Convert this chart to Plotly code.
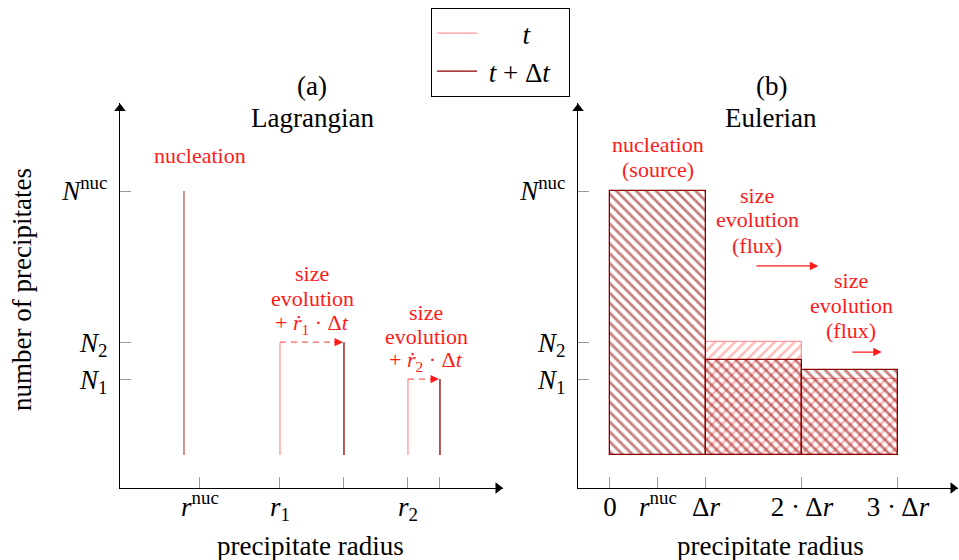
import plotly.graph_objects as go

# ---------------- data ----------------
# Lagrangian panel (a)
r_nuc_line = 2.0            # nucleation class radius (drawn line)
N_nuc = 9.0
N_base = 1.0
r_t = [5.0, 9.0]            # r1, r2 at time t
r_dt = [7.0, 10.0]          # radii at t + dt
N_lag = [4.42, 3.30]        # N2, N1
lag_tickvals = [2.5, 5.0, 7.0, 9.0, 10.0]
lag_ticktext = ["<i>r</i><sup>nuc</sup>", "<i>r</i><sub>1</sub>", "", "<i>r</i><sub>2</sub>", ""]

# Eulerian panel (b)
bin_centers = [0.5, 1.5, 2.5]
N_eul_t = [None, 4.42, 3.30]
N_eul_dt = [9.0, 3.88, 3.58]
eul_tickvals = [0, 0.5, 1, 2, 3]
eul_ticktext = ["0", "<i>r</i><sup>nuc</sup>", "Δ<i>r</i>", "2 · Δ<i>r</i>", "3 · Δ<i>r</i>"]

y_tickvals = [9.0, 4.42, 3.30]
y_ticktext = ["<i>N</i><sup>nuc</sup>", "<i>N</i><sub>2</sub>", "<i>N</i><sub>1</sub>"]

# ---------------- style ----------------
W, H = 959, 560
FONT = "Liberation Serif"
BIG, SMALL = 27, 22
LIGHT = "#ff9a9a"
LIGHT_HATCH = "#ff7070"
DARK = "#8b0000"
RED = "#ff1a1a"
YMAX = 11.667
XMAX_L = 11.97
XMIN_R, XMAX_R = -0.333, 3.625
NB = "&nbsp;"

def px(x):
    return x / W

def py(y):
    return 1 - y / H

fig = go.Figure()

# ----- Lagrangian lines -----
xs_t, ys_t, xs_dt, ys_dt = [], [], [], []
for a, b, n in zip(r_t, r_dt, N_lag):
    xs_t += [a, a, None]
    ys_t += [N_base, n, None]
    xs_dt += [b, b, None]
    ys_dt += [N_base, n, None]

fig.add_trace(go.Scatter(x=xs_t, y=ys_t, mode="lines", line=dict(color=LIGHT, width=1.3),
                         name=NB * 6 + "<i>t</i>", xaxis="x", yaxis="y", legendrank=1))
fig.add_trace(go.Scatter(x=xs_dt, y=ys_dt, mode="lines", line=dict(color=DARK, width=1.3),
                         name=NB + "<i>t</i>" + NB + "+" + NB + "Δ<i>t</i>" + NB * 2,
                         xaxis="x", yaxis="y", legendrank=2))
fig.add_trace(go.Scatter(x=[r_nuc_line, r_nuc_line], y=[N_base, N_nuc], mode="lines",
                         line=dict(color="#b85555", width=1.3), showlegend=False,
                         xaxis="x", yaxis="y"))

# dashed growth arrows
for a, b, n in zip(r_t, r_dt, N_lag):
    fig.add_trace(go.Scatter(x=[a, b - 0.3], y=[n, n], mode="lines",
                             line=dict(color="#ff6060", width=1.3, dash="6px,5px"),
                             showlegend=False, xaxis="x", yaxis="y"))
    fig.add_annotation(x=b - 0.03, y=n, ax=b - 0.35, ay=n, xref="x", yref="y",
                       axref="x", ayref="y", showarrow=True, arrowhead=2, arrowsize=1.3,
                       arrowwidth=1.3, arrowcolor=RED, text="")

# ----- Eulerian bars -----
def heights(vals):
    return [None if v is None else v - N_base for v in vals]

fig.add_trace(go.Bar(x=bin_centers, y=heights(N_eul_t), base=N_base, width=1.0,
                     marker=dict(color=LIGHT_HATCH, line=dict(color=LIGHT, width=1.3),
                                 pattern=dict(shape="/", size=7, solidity=0.35,
                                              fgcolor=LIGHT_HATCH, bgcolor="rgba(0,0,0,0)")),
                     showlegend=False, xaxis="x2", yaxis="y2"))
fig.add_trace(go.Bar(x=bin_centers, y=heights(N_eul_dt), base=N_base, width=1.0,
                     marker=dict(color=DARK, line=dict(color=DARK, width=1.3),
                                 pattern=dict(shape="\\", size=7, solidity=0.4,
                                              fgcolor=DARK, bgcolor="rgba(0,0,0,0)")),
                     showlegend=False, xaxis="x2", yaxis="y2"))

# axis arrowheads
for xa, ya, xmax, xmin in (("x", "y", XMAX_L, 0.0), ("x2", "y2", XMAX_R, XMIN_R)):
    fig.add_trace(go.Scatter(x=[xmin], y=[YMAX - 0.17], mode="markers",
                             marker=dict(symbol="triangle-up", size=10, color="black"),
                             showlegend=False, cliponaxis=False, xaxis=xa, yaxis=ya,
                             hoverinfo="skip"))
    dx = (xmax - xmin) / ((XMAX_L * 32) if xa == "x" else 380) * 5
    fig.add_trace(go.Scatter(x=[xmax - dx], y=[0], mode="markers",
                             marker=dict(symbol="triangle-right", size=10, color="black"),
                             showlegend=False, cliponaxis=False, xaxis=xa, yaxis=ya,
                             hoverinfo="skip"))

# flux arrows (Eulerian)
flux_arrows = [(1.51, 2.17, 6.73), (2.51, 2.83, 4.12)]
for x0, x1, yv in flux_arrows:
    fig.add_annotation(x=x1, y=yv, ax=x0, ay=yv, xref="x2", yref="y2", axref="x2",
                       ayref="y2", showarrow=True, arrowhead=2, arrowsize=1.3,
                       arrowwidth=1.3, arrowcolor=RED, text="")

# ----- text annotations -----
def txt(x, y, s, size, color="black", angle=0):
    fig.add_annotation(x=px(x), y=py(y), xref="paper", yref="paper", text=s,
                       showarrow=False, textangle=angle,
                       font=dict(family=FONT, size=size, color=color),
                       xanchor="center", yanchor="middle")

def block(x, ys, lines, size, color="black"):
    for yy, s in zip(ys, lines):
        txt(x, yy, s, size, color)

block(312, [86, 118], ["(a)", "Lagrangian"], BIG)
block(771, [86, 118], ["(b)", "Eulerian"], BIG)
block(200, [155], ["nucleation"], SMALL, RED)
block(312, [273, 298, 324],
      ["size", "evolution", "+ <i>ṙ</i><sub>1</sub> · Δ<i>t</i>"], SMALL, RED)
block(426, [312, 336, 361],
      ["size", "evolution", "+ <i>ṙ</i><sub>2</sub> · Δ<i>t</i>"], SMALL, RED)
block(658, [145, 169], ["nucleation", "(source)"], SMALL, RED)
block(757, [195, 220, 245], ["size", "evolution", "(flux)"], SMALL, RED)
block(851, [280, 305, 330], ["size", "evolution", "(flux)"], SMALL, RED)
txt(310, 546, "precipitate radius", BIG)
txt(770, 546, "precipitate radius", BIG)
txt(22, 290, "number of precipitates", BIG, angle=-90)

# ----- layout -----
tickfont = dict(family=FONT, size=BIG, color="black")
common_x = dict(showline=True, linecolor="black", linewidth=1.3, ticks="inside", ticklen=11,
                tickcolor="#9a9a9a", tickwidth=1.2, showgrid=False, zeroline=False,
                tickfont=tickfont, fixedrange=True, ticklabelstandoff=-6)
common_y = dict(showline=True, linecolor="black", linewidth=1.3, ticks="inside", ticklen=11,
                tickcolor="#9a9a9a", tickwidth=1.2, showgrid=False, zeroline=False,
                tickfont=tickfont, tickvals=y_tickvals, ticktext=y_ticktext,
                range=[0, YMAX], domain=[py(488), py(103)], ticklabelstandoff=6,
                fixedrange=True)

fig.update_layout(
    width=W, height=H,
    margin=dict(l=0, r=0, t=0, b=0),
    paper_bgcolor="white", plot_bgcolor="rgba(0,0,0,0)",
    barmode="overlay", bargap=0,
    font=dict(family=FONT, size=BIG, color="black"),
    xaxis=dict(common_x, domain=[px(120), px(503)], range=[0, XMAX_L],
               tickvals=lag_tickvals, ticktext=lag_ticktext, anchor="y"),
    yaxis=dict(common_y, anchor="x"),
    xaxis2=dict(common_x, domain=[px(578), px(958)], range=[XMIN_R, XMAX_R],
                tickvals=eul_tickvals, ticktext=eul_ticktext, anchor="y2"),
    yaxis2=dict(common_y, anchor="x2"),
    legend=dict(x=px(431), y=py(8), xanchor="left", yanchor="top",
                bordercolor="black", borderwidth=1, bgcolor="white",
                font=dict(family=FONT, size=BIG), tracegroupgap=0, itemwidth=40),
    showlegend=True,
)

fig.write_html("out.html", config={"displayModeBar": False},
               post_script="document.body.style.margin='0px';document.body.style.padding='0px';")
